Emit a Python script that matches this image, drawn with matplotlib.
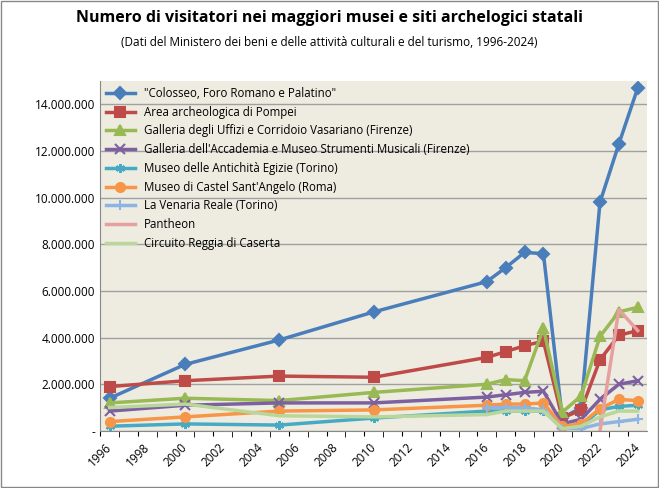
import numpy as np
import matplotlib.pyplot as plt
from matplotlib.ticker import FuncFormatter

years = [1996, 2000, 2005, 2010, 2016, 2017, 2018, 2019, 2020, 2021, 2022, 2023, 2024]
nan = np.nan

colosseo = [1.4, 2.85, 3.9, 5.1, 6.4, 7.0, 7.65, 7.6, 0.55, 1.0, 9.8, 12.3, 14.7]
pompei = [1.9, 2.15, 2.35, 2.3, 3.15, 3.4, 3.65, 3.85, 0.55, 0.9, 3.05, 4.1, 4.3]
uffizi = [1.2, 1.4, 1.3, 1.65, 2.0, 2.2, 2.15, 4.4, 0.8, 1.5, 4.05, 5.1, 5.3]
accademia = [0.85, 1.1, 1.2, 1.2, 1.45, 1.55, 1.65, 1.7, 0.3, 0.5, 1.35, 2.0, 2.15]
egizio = [0.2, 0.3, 0.25, 0.55, 0.85, 0.85, 0.85, 0.85, 0.15, 0.2, 0.9, 1.05, 1.1]
castel = [0.4, 0.6, 0.85, 0.9, 1.1, 1.15, 1.15, 1.2, 0.2, 0.3, 0.95, 1.35, 1.3]
venaria = [nan, nan, nan, nan, 1.0, 1.0, 1.0, 0.9, 0.1, 0.1, 0.3, 0.4, 0.5]
pantheon = [nan, nan, nan, nan, nan, nan, nan, nan, nan, nan, 0.0, 5.2, 4.3]
caserta = [1.0, 1.15, 0.65, 0.6, 0.7, 0.85, 0.85, 0.85, 0.1, 0.2, 0.6, 0.85, 0.85]

series = [
    ('"Colosseo, Foro Romano e Palatino"', colosseo, '#4A7EBB', 'D'),
    ('Area archeologica di Pompei', pompei, '#BE4B48', 's'),
    ('Galleria degli Uffizi e Corridoio Vasariano (Firenze)', uffizi, '#98B954', '^'),
    ("Galleria dell'Accademia e Museo Strumenti Musicali (Firenze)", accademia, '#7D60A0', 'x'),
    ('Museo delle Antichità Egizie (Torino)', egizio, '#46AAC5', (6, 2, 0)),
    ("Museo di Castel Sant'Angelo (Roma)", castel, '#F79646', 'o'),
    ('La Venaria Reale (Torino)', venaria, '#8EB4E3', '+'),
    ('Pantheon', pantheon, '#E6A0A0', None),
    ('Circuito Reggia di Caserta', caserta, '#B9D79A', None),
]

plt.rcParams['font.family'] = 'Open Sans'

fig = plt.figure(figsize=(6.59, 4.88), dpi=100)
ax = fig.add_axes([0.152, 0.117, 0.83, 0.717])
ax.set_facecolor('#EEECE1')

x = np.array(years) + 0.5
for label, vals, color, marker in series:
    ax.plot(x, np.array(vals) * 1e6, color=color, lw=2.5, marker=marker,
            ms=6.5, mew=1.5, label=label)

ax.set_xlim(1996, 2025)
ax.set_ylim(0, 15e6)
ax.set_xticks(range(1996, 2025, 2))
ax.set_xticks(range(1996, 2025, 1), minor=True)
ax.tick_params(axis='x', which='minor', length=4)
ax.tick_params(axis='x', rotation=45, labelsize=8.5)
ax.set_yticks(np.arange(0, 15e6, 2e6))
ax.yaxis.set_major_formatter(FuncFormatter(
    lambda v, p: '-' if v == 0 else f'{int(v):,}'.replace(',', '.')))
ax.tick_params(axis='y', length=0, labelsize=8.5)
ax.grid(axis='y', color='#A0A0A0', lw=1)
for s in ['top', 'right']:
    ax.spines[s].set_visible(False)
ax.spines['left'].set_color('#888888')
ax.spines['bottom'].set_color('#888888')

ax.legend(loc='upper left', frameon=False, fontsize=8.3, handlelength=2.5,
          borderaxespad=0.1, labelspacing=0.5, bbox_to_anchor=(0.0, 1.0))

fig.text(0.5, 0.955, 'Numero di visitatori nei maggiori musei e siti archelogici statali',
         ha='center', fontsize=11.5, fontweight='bold')
fig.text(0.5, 0.905, '(Dati del Ministero dei beni e delle attività culturali e del turismo, 1996-2024)',
         ha='center', fontsize=8.5)
fig.patches.append(plt.Rectangle((0.002, 0.002), 0.996, 0.996, transform=fig.transFigure,
                                 fill=False, ec='#888888', lw=1))
fig.savefig('out.png')
